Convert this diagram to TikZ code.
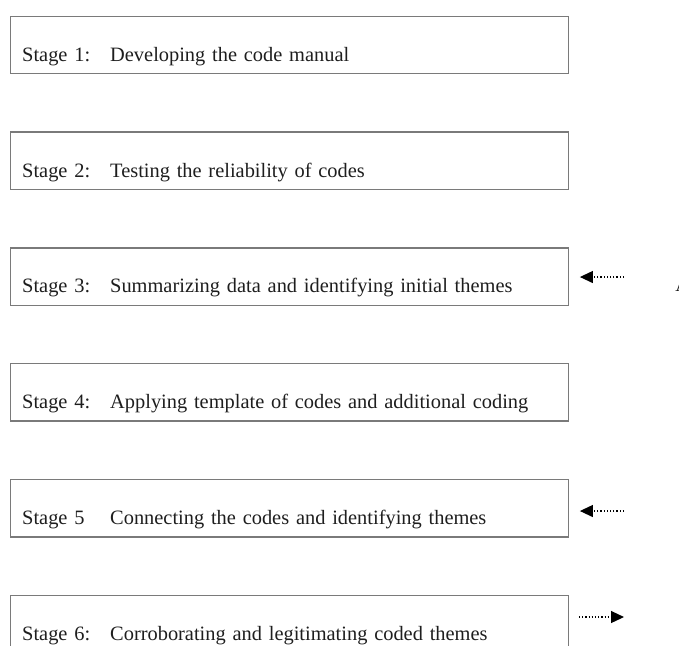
\documentclass[tikz,border=0pt]{standalone}
\usepackage{fontspec}
\setmainfont{Liberation Serif}
\usetikzlibrary{arrows.meta}
\definecolor{boxgray}{HTML}{7A7A7A}
\definecolor{inkgray}{HTML}{1E1E1E}
\newcommand{\stagelbl}[1]{\makebox[44pt][l]{#1}}
\begin{document}
\begin{tikzpicture}[x=.5pt,y=-.5pt]
	\tikzstyle{stagebox}=[draw=boxgray,line width=.7pt,anchor=north west,text=inkgray,font=\fontsize{10.2}{12}\selectfont,text width=267pt,align=left,inner xsep=6pt,inner ysep=0pt,text height=22.5pt,text depth=6.25pt];
	\tikzstyle{fbarrow}=[densely dotted,line width=.6pt,-{Triangle[length=6.5pt,width=6pt]}];
	\clip (0,0) rectangle (679,645);
	\node[stagebox] (st1) at (9.5,15.5) {\stagelbl{Stage 1:}Developing the code manual};
	\node[stagebox] (st2) at (9.5,131.3) {\stagelbl{Stage 2:}Testing the reliability of codes};
	\node[stagebox] (st3) at (9.5,247.1) {\stagelbl{Stage 3:}Summarizing data and identifying initial themes};
	\node[stagebox] (st4) at (9.5,362.9) {\stagelbl{Stage 4:}Applying template of codes and additional coding};
	\node[stagebox] (st5) at (9.5,478.7) {\stagelbl{Stage 5}Connecting the codes and identifying themes};
	\node[stagebox] (st6) at (9.5,594.5) {\stagelbl{Stage 6:}Corroborating and legitimating coded themes};
	\coordinate (t3) at (624,277);
	\coordinate (t5) at (624,511);
	\coordinate (t6) at (624,617);
	\draw[fbarrow] (t3) -- ([xshift=5.5pt]st3.east |- t3);
	\draw[fbarrow] (t5) -- ([xshift=5.5pt]st5.east |- t5);
	\draw[fbarrow] ([xshift=5pt]st6.east |- t6) -- (t6);
	\node[anchor=base west,inner sep=0pt,text=inkgray,font=\fontsize{10.2}{12}\selectfont] (nxt) at (675,291) {A};
\end{tikzpicture}
\end{document}
